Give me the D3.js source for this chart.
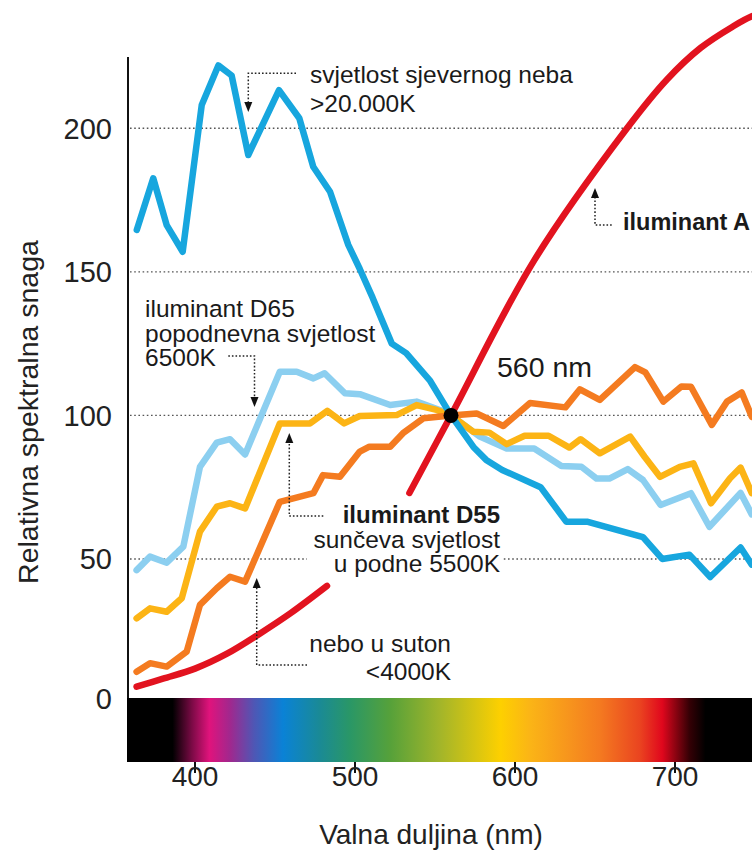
<!DOCTYPE html>
<html>
<head>
<meta charset="utf-8">
<script src="https://cdn.jsdelivr.net/npm/d3@7"></script>
<style>
  html, body { margin: 0; padding: 0; background: #fff; }
  svg { display: block; font-family: "Liberation Sans", Arial, Helvetica, sans-serif; }
</style>
</head>
<body>
<svg id="chart" width="752" height="854"></svg>
<script>
// ---------------- DATA ----------------
const xTicks = [400, 500, 600, 700];
const yTicks = [0, 50, 100, 150, 200];

// Sky light (>20.000K)
const skyNm  = [363.6, 373.9, 382.3, 392.3, 404.2, 414.6, 422.9, 433.3, 452.5, 465.2, 473.9, 484.4, 495.8, 503, 511, 523, 532, 547, 560, 574, 582, 592, 616, 632, 645, 680, 692, 709, 722, 741, 748];
const skyVal = [164.6, 182.6, 166.3, 157.0, 208.1, 221.9, 218.4, 190.7, 213.3, 203.5, 186.6, 177.9, 159.4, 151, 141, 125, 121.7, 112, 100, 89, 84.5, 81, 75, 63, 63, 57.6, 50, 51.5, 43.7, 54, 48];

// Illuminant D65
const d65Nm  = [363.5, 371.9, 382.3, 392.7, 403.1, 413.6, 421.9, 431.3, 453, 463.6, 474, 481, 493.7, 503, 522, 538.5, 553, 560, 578, 594.8, 612, 629, 641.5, 651, 659, 670.5, 680, 691, 710, 721.5, 741, 748];
const d65Val = [46.1, 50.8, 48.7, 54.3, 82.1, 90.5, 91.7, 86.4, 115.2, 115.2, 112.9, 114.7, 107.7, 107.4, 103.6, 104.8, 101.9, 100, 92.6, 88.5, 88.5, 82.4, 82.1, 78, 78, 81.3, 77.5, 68.8, 72.9, 61.2, 73, 65.5];

// Illuminant D55
const d55Nm  = [363.5, 371.9, 382.3, 391.7, 403.1, 413.6, 421.9, 431.3, 453, 471.9, 482.7, 493.2, 503, 526, 538.5, 551, 560, 574, 584, 594.8, 606, 621, 634, 641, 653, 672, 681, 690.6, 703, 711.5, 722.5, 734.4, 741, 748];
const d55Val = [29.3, 32.8, 31.6, 36.3, 59.5, 68.2, 69.4, 67.6, 97.2, 97.2, 101.6, 97.2, 99.8, 100.1, 103.6, 101.9, 100, 94.3, 94, 90, 92.9, 92.9, 88.8, 91.7, 86.8, 92.6, 85.6, 78.6, 82.1, 83.3, 69.4, 78.1, 81.8, 72.9];

// Dusk sky (<4000K)
const duskNm  = [363.5, 371.9, 382.3, 394.8, 403.1, 413.6, 421.9, 431.3, 453, 461.5, 474, 480, 490.6, 503, 509, 522, 530, 542.7, 560, 576, 592.7, 609.4, 631.5, 640.6, 653, 675, 681.5, 692.7, 704, 710, 723, 732.5, 741.7, 748];
const duskVal = [10.7, 13.7, 12.5, 17.7, 34, 39.8, 43.8, 42.1, 69.9, 71.1, 72.9, 79.2, 78.6, 87.4, 89.1, 89.1, 93.8, 99, 100, 100.7, 96.3, 104.3, 102.8, 109.1, 105.4, 116.8, 115, 104.8, 110.1, 110, 96.7, 104.8, 108, 99.5];

// Illuminant A (two drawn pieces)
const aLowNm   = [363.5, 380, 400, 420, 440, 460, 482.5];
const aLowVal  = [5.5, 8.3, 11.8, 17.0, 23.8, 31.2, 40.6];
const aHighNm  = [534, 560, 612, 670, 695, 716, 736, 748, 760];
const aHighVal = [73, 100, 154, 200, 217, 228, 235.4, 239, 241];

// spectrum strip colour stops (nm, colour)
const spectrumNm  = [357, 386, 398, 409, 422, 437, 455, 478, 497, 522, 553, 591, 609, 634, 653, 678, 692, 709, 719, 760];
const spectrumCol = ["#000000", "#000000", "#7a0a45", "#e0137c", "#a0288e", "#4e57b5", "#0a82d6", "#1a8a95", "#2a9766", "#56a13a", "#a2b52a", "#fdd000", "#fbb516", "#f7941d", "#f47a20", "#ea4420", "#e0071d", "#350005", "#000000", "#000000"];

const crossNm = 560, crossVal = 100;

// ---------------- LAYOUT ----------------
const svg = d3.select("#chart");
const x = d3.scaleLinear().domain([400, 700]).range([195, 675]);
const y = d3.scaleLinear().domain([0, 200]).range([702.5, 128.3]);
const axisX0 = 128, axisTop = 57, barTop = 698, barBottom = 762;
const annSize = 24.5;

svg.append("rect").attr("width", 752).attr("height", 854).attr("fill", "#fff");

// gradient
const defs = svg.append("defs");
const grad = defs.append("linearGradient").attr("id", "spec")
  .attr("gradientUnits", "userSpaceOnUse")
  .attr("x1", x(spectrumNm[0])).attr("x2", x(spectrumNm[spectrumNm.length - 1]))
  .attr("y1", 0).attr("y2", 0);
const span = spectrumNm[spectrumNm.length - 1] - spectrumNm[0];
spectrumNm.forEach((nm, i) => {
  grad.append("stop").attr("offset", (nm - spectrumNm[0]) / span).attr("stop-color", spectrumCol[i]);
});
svg.append("rect").attr("x", axisX0 - 1).attr("y", barTop)
  .attr("width", 760 - axisX0).attr("height", barBottom - barTop)
  .attr("fill", "url(#spec)");

// gridlines
const gridGap = [470, 593];
const gridG = svg.append("g").attr("stroke", "#555").attr("stroke-width", 1.4)
  .attr("stroke-dasharray", "1.6,2.6").attr("fill", "none");
yTicks.filter(v => v > 0).forEach(v => {
  if (v === 50) {
    gridG.append("line").attr("x1", axisX0 + 2).attr("x2", x(gridGap[0])).attr("y1", y(v)).attr("y2", y(v));
    gridG.append("line").attr("x1", x(gridGap[1])).attr("x2", 752).attr("y1", y(v)).attr("y2", y(v));
  } else {
    gridG.append("line").attr("x1", axisX0 + 2).attr("x2", 752).attr("y1", y(v)).attr("y2", y(v));
  }
});

// y axis line
svg.append("line").attr("x1", axisX0).attr("x2", axisX0).attr("y1", axisTop).attr("y2", barTop)
  .attr("stroke", "#111").attr("stroke-width", 2);

// y tick labels
svg.append("g").selectAll("text").data(yTicks).join("text")
  .attr("x", 112).attr("y", d => (d === 0 ? y(d) - 4 : y(d)) + 10.5)
  .attr("text-anchor", "end").attr("font-size", 29).attr("fill", "#222")
  .text(d => d);

// x ticks + labels
const xg = svg.append("g");
xg.selectAll("line").data(xTicks).join("line")
  .attr("x1", d => x(d)).attr("x2", d => x(d))
  .attr("y1", barBottom).attr("y2", barBottom + 11)
  .attr("stroke", "#111").attr("stroke-width", 2);
xg.selectAll("text").data(xTicks).join("text")
  .attr("x", d => x(d)).attr("y", 786)
  .attr("text-anchor", "middle").attr("font-size", 28).attr("fill", "#222")
  .text(d => d);

// axis titles
svg.append("text").attr("x", 431).attr("y", 844).attr("text-anchor", "middle")
  .attr("font-size", 28).attr("fill", "#222").text("Valna duljina (nm)");
svg.append("text").attr("transform", "translate(38,412) rotate(-90)")
  .attr("text-anchor", "middle").attr("font-size", 28.5).attr("fill", "#222")
  .text("Relativna spektralna snaga");

// ---------------- SERIES ----------------
const line = d3.line().x(d => x(d[0])).y(d => y(d[1]));
const smooth = d3.line().x(d => x(d[0])).y(d => y(d[1])).curve(d3.curveCatmullRom);
const zip = (a, b) => a.map((v, i) => [v, b[i]]);

const series = [
  { nm: d65Nm,  val: d65Val,  color: "#8ccff0" },
  { nm: d55Nm,  val: d55Val,  color: "#fcb415" },
  { nm: skyNm,  val: skyVal,  color: "#17a6de" },
  { nm: duskNm, val: duskVal, color: "#f47b20" }
];
series.forEach(s => {
  svg.append("path").attr("d", line(zip(s.nm, s.val)))
    .attr("fill", "none").attr("stroke", s.color).attr("stroke-width", 6.5)
    .attr("stroke-linejoin", "round").attr("stroke-linecap", "round");
});
[[aLowNm, aLowVal], [aHighNm, aHighVal]].forEach(([n, v]) => {
  svg.append("path").attr("d", smooth(zip(n, v)))
    .attr("fill", "none").attr("stroke", "#e2131f").attr("stroke-width", 6.5)
    .attr("stroke-linecap", "round");
});
svg.append("circle").attr("cx", x(crossNm)).attr("cy", y(crossVal)).attr("r", 7.5).attr("fill", "#000");

// ---------------- ANNOTATIONS ----------------
const ann = svg.append("g");
function textLines(lines, xx, y0, dy, anchor, size, weight) {
  lines.forEach((t, i) => {
    ann.append("text").attr("x", xx).attr("y", y0 + i * dy)
      .attr("text-anchor", anchor).attr("font-size", size)
      .attr("font-weight", weight || "normal").attr("fill", "#1a1a1a").text(t);
  });
}
textLines(["svjetlost sjevernog neba", ">20.000K"], 310, 83, 28.5, "start", annSize);
textLines(["iluminant D65", "popodnevna svjetlost", "6500K"], 145, 317, 24.7, "start", annSize);
textLines(["iluminant D55"], 500, 523, 0, "end", 24, "bold");
textLines(["sunčeva svjetlost", "u podne 5500K"], 500, 547.5, 24.5, "end", annSize);
textLines(["nebo u suton", "<4000K"], 451, 652, 27.5, "end", annSize);
textLines(["560 nm"], 497, 377, 0, "start", 28.5);
textLines(["iluminant A"], 623, 230, 0, "start", 23.5, "bold");

// leader lines with arrows
const leaders = [
  { pts: [[296, 73.3], [248.3, 73.3], [248.3, 104]], tip: [248.3, 112], dir: "down" },
  { pts: [[228.3, 356], [254.5, 356], [254.5, 399]], tip: [254.5, 407], dir: "down" },
  { pts: [[323.3, 516], [289.3, 516], [289.3, 441]], tip: [289.3, 433], dir: "up" },
  { pts: [[307, 665], [256.7, 665], [256.7, 586]], tip: [256.7, 578], dir: "up" },
  { pts: [[611.7, 225], [595, 225], [595, 196]], tip: [595, 188], dir: "up" }
];
leaders.forEach(l => {
  svg.append("path").attr("d", d3.line()(l.pts)).attr("fill", "none")
    .attr("stroke", "#222").attr("stroke-width", 1.5).attr("stroke-dasharray", "1.6,2");
  const [tx, ty] = l.tip, s = l.dir === "down" ? -1 : 1;
  svg.append("path").attr("d", `M${tx},${ty} L${tx - 4},${ty + s * 10} L${tx + 4},${ty + s * 10} Z`)
    .attr("fill", "#111");
});
</script>
</body>
</html>
